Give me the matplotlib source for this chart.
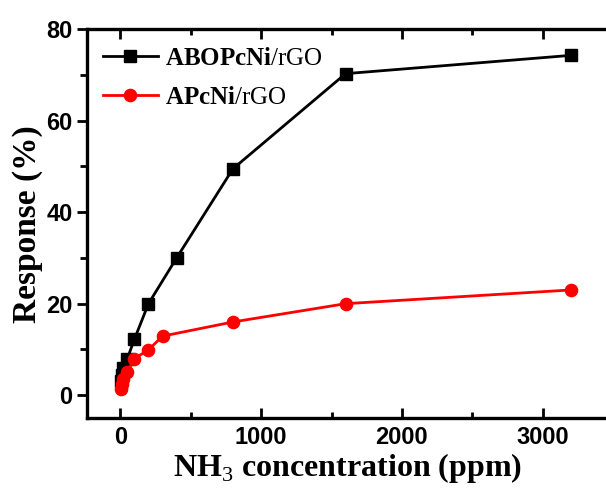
import matplotlib
matplotlib.use("Agg")
from matplotlib import pyplot as plt
from matplotlib.ticker import MultipleLocator

# NH3 concentration (ppm) and response (%)
conc_abopc = [5, 10, 20, 50, 100, 200, 400, 800, 1600, 3200]
resp_abopc = [3.0, 4.5, 6.0, 8.0, 12.2, 20.0, 30.0, 49.5, 70.3, 74.3]

conc_apc = [5, 10, 20, 50, 100, 200, 300, 800, 1600, 3200]
resp_apc = [1.4, 2.5, 3.5, 5.0, 8.0, 9.9, 12.9, 16.0, 20.0, 23.0]

label_abopc = r"$\mathbf{ABOPcNi}\mathrm{/rGO}$"
label_apc = r"$\mathbf{APcNi}\mathrm{/rGO}$"

plt.rcParams['mathtext.fontset'] = 'custom'
plt.rcParams['mathtext.rm'] = 'Liberation Serif'
plt.rcParams['mathtext.bf'] = 'Liberation Serif:bold'

fig = plt.figure(figsize=(6.06, 4.93), dpi=100)
ax = fig.add_axes([86.5 / 606, (493 - 418) / 493, 521 / 606, (418 - 29.3) / 493])

ax.plot(conc_abopc, resp_abopc, color='black', marker='s', markersize=8,
        linewidth=2, label=label_abopc)
ax.plot(conc_apc, resp_apc, color='red', marker='o', markersize=8.8,
        linewidth=2, label=label_apc)

ax.set_xlim(-240, 3460)
ax.set_ylim(-5, 80)

ax.xaxis.set_major_locator(MultipleLocator(1000))
ax.xaxis.set_minor_locator(MultipleLocator(500))
ax.yaxis.set_major_locator(MultipleLocator(20))
ax.yaxis.set_minor_locator(MultipleLocator(10))

for s in ax.spines.values():
    s.set_linewidth(2.4)
ax.spines['right'].set_visible(False)

ax.tick_params(axis='x', which='both', direction='in', top=True, width=2)
ax.tick_params(axis='x', which='major', length=7)
ax.tick_params(axis='x', which='minor', length=4)
ax.tick_params(axis='y', which='both', direction='out', width=2)
ax.tick_params(axis='y', which='major', length=7)
ax.tick_params(axis='y', which='minor', length=5)

for lab in ax.get_xticklabels() + ax.get_yticklabels():
    lab.set_fontfamily('Liberation Sans')
    lab.set_fontweight('heavy')
    lab.set_fontsize(17)
ax.tick_params(axis='x', pad=6)
ax.tick_params(axis='y', pad=3)

ax.set_xlabel(r"NH$_3$ concentration (ppm)", fontfamily='Liberation Serif',
              fontweight='bold', fontsize=23, labelpad=1)
ax.set_ylabel("Response (%)", fontfamily='Liberation Serif',
              fontweight='bold', fontsize=24, labelpad=2)

leg = ax.legend(loc='upper left', frameon=False, fontsize=18,
                handlelength=2.2, handletextpad=0.3, borderaxespad=0.25,
                labelspacing=0.6)

fig.savefig('out.png', dpi=100)
